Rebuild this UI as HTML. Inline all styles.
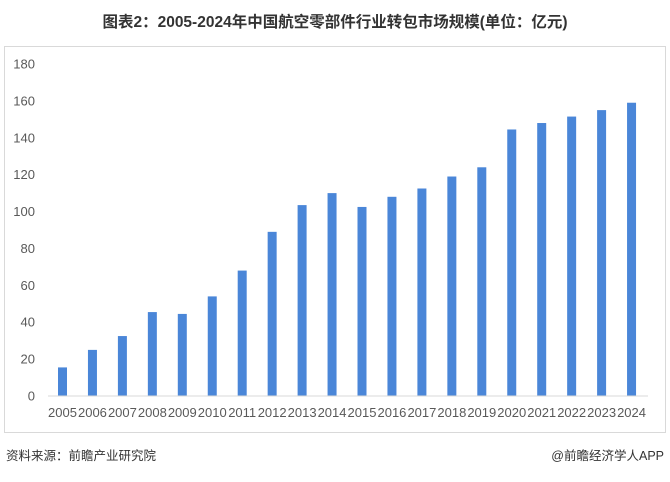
<!DOCTYPE html>
<html><head><meta charset="utf-8"><style>
body{margin:0;width:670px;height:477px;background:#fff;font-family:"Liberation Sans","Noto Sans CJK SC",sans-serif;overflow:hidden}
svg text{font-family:"Liberation Sans","Noto Sans CJK SC",sans-serif}
</style></head><body>
<svg width="670" height="477">
<text x="335" y="27" text-anchor="middle" font-size="15.5" font-weight="bold" fill="#333">图表2：2005-2024年中国航空零部件行业转包市场规模(单位：亿元)</text>
<rect x="4.5" y="46.5" width="661" height="386" fill="none" stroke="#d9d9d9"/>
<g id="yaxis"></g>
<g id="bars"></g>
<g id="xaxis"></g>
<line x1="48" y1="396" x2="648" y2="396" stroke="#d9d9d9"/>
<text x="6" y="460" font-size="12.5" fill="#333">资料来源：前瞻产业研究院</text>
<text x="664" y="460" text-anchor="end" font-size="12.5" fill="#333">@前瞻经济学人APP</text>
</svg>
<script>
const categories=["2005","2006","2007","2008","2009","2010","2011","2012","2013","2014","2015","2016","2017","2018","2019","2020","2021","2022","2023","2024"];
const values=[15.5,25,32.5,45.5,44.5,54,68,89,103.5,110,102.5,108,112.5,119,124,144.5,148,151.5,155,159];
const yTicks=[0,20,40,60,80,100,120,140,160,180];
const NS="http://www.w3.org/2000/svg";
const y=v=>396-v*(396-64)/180;
const x=i=>62.5+i*29.95;
const ya=document.getElementById('yaxis'),ba=document.getElementById('bars'),xa=document.getElementById('xaxis');
yTicks.forEach(t=>{const e=document.createElementNS(NS,'text');


e.setAttribute('x',35);e.setAttribute('y',y(t)+4.5);e.setAttribute('text-anchor','end');e.setAttribute('font-size','13');e.setAttribute('fill','#595959');e.textContent=t;ya.appendChild(e);});
categories.forEach((c,i)=>{const r=document.createElementNS(NS,'rect');


r.setAttribute('x',x(i)-4.5);r.setAttribute('width',9);r.setAttribute('y',y(values[i]));r.setAttribute('height',396-y(values[i]));r.setAttribute('fill','#4a86d8');ba.appendChild(r);
const t=document.createElementNS(NS,'text');


t.setAttribute('x',x(i));t.setAttribute('y',417);t.setAttribute('text-anchor','middle');t.setAttribute('font-size','13');t.setAttribute('fill','#595959');t.textContent=c;xa.appendChild(t);});
</script>
</body></html>
